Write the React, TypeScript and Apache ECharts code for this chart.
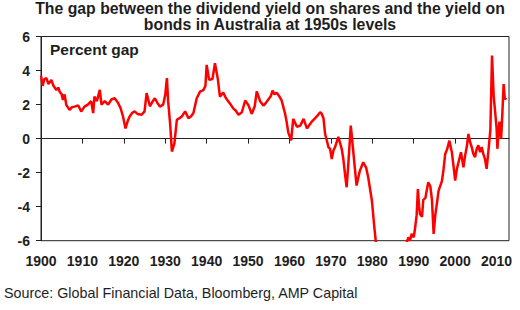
import React, { useEffect, useRef } from "react";
import * as echarts from "echarts";

const titleLines = [
  "The gap between the dividend yield on shares and the yield on",
  "bonds in Australia at 1950s levels",
];
const unitLabel = "Percent gap";
const sourceText = "Source: Global Financial Data, Bloomberg, AMP Capital";
const xTicks = [1900, 1910, 1920, 1930, 1940, 1950, 1960, 1970, 1980, 1990, 2000, 2010];

const years = [
  1900.0, 1900.4, 1900.8, 1901.3, 1901.8, 1902.5, 1903.0, 1903.7, 1904.2, 1904.5,
  1905.0, 1905.3, 1905.7, 1906.1, 1906.9, 1907.5, 1908.1, 1909.0, 1909.7, 1910.5,
  1911.3, 1912.1, 1912.6, 1912.9, 1913.5, 1914.2, 1914.6, 1915.4, 1916.2, 1917.0,
  1917.8, 1918.6, 1919.2, 1919.8, 1920.4, 1920.9, 1921.4, 1922.0, 1922.6, 1923.3,
  1924.3, 1925.0, 1925.5, 1926.3, 1927.0, 1927.5, 1928.1, 1928.7, 1929.5, 1930.0,
  1930.4, 1930.7, 1931.2, 1931.6, 1932.2, 1932.8, 1933.4, 1934.0, 1934.8, 1935.6,
  1936.2, 1936.8, 1937.6, 1938.4, 1939.2, 1939.7, 1940.0, 1940.6, 1941.4, 1942.0,
  1942.7, 1943.2, 1944.0, 1944.6, 1945.2, 1945.8, 1946.4, 1947.0, 1947.7, 1948.5,
  1949.3, 1950.1, 1950.9, 1951.6, 1952.1, 1952.9, 1953.7, 1954.3, 1954.9, 1955.5,
  1955.9, 1956.4, 1956.9, 1957.5, 1958.1, 1958.9, 1959.3, 1959.7, 1960.4, 1960.9,
  1961.8, 1962.6, 1963.4, 1964.2, 1965.4, 1966.6, 1967.4, 1967.8, 1968.2, 1968.6,
  1969.0, 1969.4, 1969.8, 1970.2, 1970.6, 1971.0, 1971.8, 1972.6, 1973.0, 1973.4,
  1973.8, 1974.2, 1974.8, 1975.3, 1975.8, 1976.2, 1976.6, 1977.0, 1977.8, 1978.5,
  1979.0, 1979.9, 1980.4, 1980.9, 1981.5, 1982.0, 1983.0, 1984.0, 1985.0, 1986.0,
  1987.0, 1987.8, 1988.3, 1988.7, 1989.1, 1989.5, 1990.0, 1990.3, 1990.7, 1991.0,
  1991.3, 1991.5, 1992.0, 1992.3, 1992.8, 1993.5, 1994.0, 1994.4, 1994.8, 1995.2,
  1995.6, 1996.0, 1996.8, 1997.2, 1997.6, 1998.1, 1998.6, 1999.2, 1999.6, 2000.0,
  2000.4, 2000.8, 2001.4, 2002.0, 2002.4, 2002.8, 2003.2, 2003.6, 2004.0, 2004.4,
  2004.8, 2005.2, 2005.6, 2006.0, 2006.4, 2006.8, 2007.2, 2007.6, 2008.0, 2008.5,
  2008.9, 2009.3, 2009.7, 2010.0, 2010.2, 2010.5, 2010.7, 2011.1, 2011.4, 2011.7,
  2012.0, 2012.3,
];

const gap = [
  3.7, 3.1, 3.5, 3.55, 3.2, 3.45, 3.1, 2.86, 3.0, 2.76,
  2.6, 2.27, 2.6, 1.98, 1.69, 1.85, 1.88, 1.95, 1.59, 1.88,
  2.0, 2.2, 1.5, 2.47, 2.2, 2.86, 2.0, 2.2, 2.0, 2.3,
  2.37, 2.1, 1.8, 1.3, 0.6, 1.0, 1.3, 1.5, 1.6, 1.45,
  1.4, 1.6, 2.67, 1.9, 2.2, 2.37, 2.1, 1.88, 2.0, 2.57,
  3.55, 2.2, 0.8, -0.76, -0.3, 1.1, 1.2, 1.3, 1.6, 1.2,
  1.3, 1.5, 2.37, 2.76, 2.85, 3.1, 4.33, 3.45, 3.5, 4.43,
  3.5, 2.47, 2.7, 2.4, 2.2, 2.0, 1.78, 1.65, 1.4, 1.55,
  2.24, 1.95, 1.45, 1.9, 2.78, 2.2, 1.94, 2.1, 2.3, 2.5,
  2.82, 2.6, 2.7, 2.5, 2.24, 1.5, 1.0, 0.37, -0.1, 1.16,
  0.7, 0.76, 1.16, 0.6, 1.0, 1.3, 1.55, 1.45, 1.2, 0.27,
  -0.1, -0.5, -0.6, -1.2, -0.7, -0.5, 0.1, -0.6, -1.2, -2.08,
  -2.86, -1.5, 0.76, -0.5, -1.8, -2.76, -2.3, -1.88, -1.39, -1.7,
  -2.27, -3.65, -5.0, -6.2, -7.0, -7.5, -8.5, -8.0, -9.0, -8.0,
  -7.0, -6.5, -6.1, -5.8, -6.0, -5.6, -5.8, -5.3, -4.5, -2.96,
  -4.0, -4.43, -4.6, -3.6, -3.5, -2.57, -2.8, -3.6, -5.6, -4.5,
  -3.8, -3.06, -2.5, -1.8, -0.9, -0.6, -0.12, -0.8, -1.6, -2.47,
  -1.8, -1.4, -0.8, -1.69, -1.0, -0.5, 0.27, -0.2, -0.5, -0.9,
  -1.1, -0.6, -0.4, -0.8, -0.5, -0.9, -1.2, -1.78, -0.8, 0.5,
  4.88, 2.5, 1.45, 0.6, -0.6, 0.5, 1.0, 0.0, 1.5, 3.2,
  2.3, 2.4,
];

export default function App() {
  const ref = useRef<HTMLDivElement>(null);
  useEffect(() => {
    document.body.style.margin = "0";
    if (!ref.current) return;
    const chart = echarts.init(ref.current, null, { renderer: "svg" });
    const font = "'Liberation Sans', Arial, sans-serif";
    const dark = "#1e1e1e";
    chart.setOption({
      animation: false,
      backgroundColor: "#ffffff",
      title: {
        text: titleLines.join("\n"),
        left: 270,
        top: 0,
        padding: 0,
        textAlign: "center",
        textStyle: {
          fontFamily: font,
          fontSize: 15.8,
          fontWeight: "bold",
          color: dark,
          lineHeight: 16,
        },
      },
      grid: {
        left: 41,
        right: 11,
        top: 36.5,
        bottom: 69.3,
        show: true,
        borderColor: "#222",
        borderWidth: 1,
        backgroundColor: "transparent",
      },
      graphic: [
        {
          type: "text",
          left: 50,
          top: 41,
          style: {
            text: unitLabel,
            font: `bold 15.5px ${font}`,
            fill: dark,
          },
        },
        {
          type: "text",
          left: 4,
          top: 286,
          style: {
            text: sourceText,
            font: `14.3px ${font}`,
            fill: dark,
          },
        },
      ],
      xAxis: [
        {
          type: "value",
          min: 1900,
          max: 2013,
          interval: 10,
          position: "bottom",
          axisLine: { show: false, onZero: false },
          axisTick: { show: false },
          splitLine: { show: false },
          axisLabel: {
            customValues: xTicks,
            formatter: (v: number) => String(v),
            margin: 13,
            fontFamily: font,
            fontSize: 14,
            fontWeight: "bold",
            color: dark,
          },
        },
        {
          type: "value",
          min: 1900,
          max: 2013,
          interval: 10,
          position: "top",
          axisLine: { show: true, onZero: true, lineStyle: { color: "#222", width: 1 } },
          axisTick: {
            show: true,
            inside: true,
            length: 5,
            customValues: xTicks,
            lineStyle: { color: "#222" },
          },
          axisLabel: { show: false },
          splitLine: { show: false },
        },
      ],
      yAxis: {
        type: "value",
        min: -6,
        max: 6,
        interval: 2,
        axisLine: { show: true, onZero: false, lineStyle: { color: "#222", width: 1 } },
        axisTick: { show: true, length: 5, lineStyle: { color: "#222" } },
        splitLine: { show: false },
        axisLabel: {
          margin: 11,
          fontFamily: font,
          fontSize: 14,
          fontWeight: "bold",
          color: dark,
        },
      },
      series: [
        {
          type: "line",
          xAxisIndex: 0,
          yAxisIndex: 0,
          data: years.map((y, i) => [y, gap[i]]),
          showSymbol: false,
          clip: true,
          lineStyle: { color: "#ff0000", width: 2.5 },
        },
      ],
    });
    return () => chart.dispose();
  }, []);
  return <div ref={ref} style={{ width: 520, height: 310 }} />;
}
